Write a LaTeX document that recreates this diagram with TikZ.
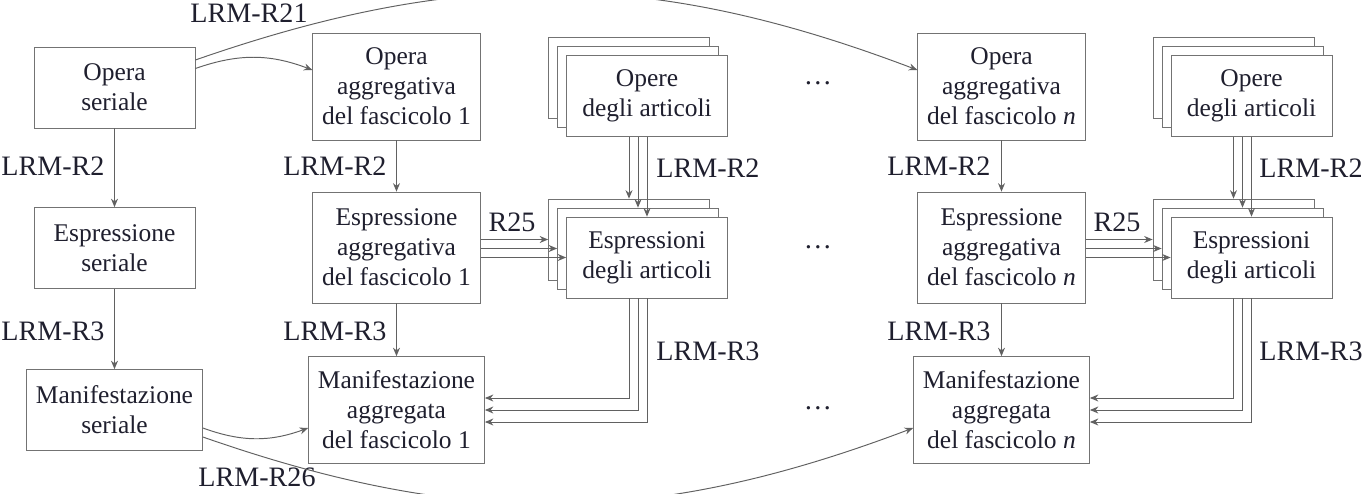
\documentclass[tikz,border=0pt]{standalone}
\usepackage{fontspec}
\setmainfont{Liberation Serif}
\usetikzlibrary{arrows.meta}
\tikzset{
  box/.style={draw=cbox,fill=white,text=ctext,align=center,inner sep=0.19cm,minimum width=3.22cm,minimum height=1.62cm,font=\fontsize{14.5}{17}\selectfont},
  tallbox/.style={box,minimum height=2.14cm},
  lbl/.style={text=ctext,inner sep=0pt,font=\fontsize{16}{19}\selectfont},
  rel/.style={draw=cline,line width=0.55pt,-{Stealth[length=1.7mm,width=1.4mm]}},
}
\begin{document}
\begin{tikzpicture}
\definecolor{cbox}{rgb}{0.45,0.45,0.45}
\definecolor{cline}{rgb}{0.38,0.38,0.38}
\definecolor{ctext}{rgb}{0.12,0.12,0.18}
\useasboundingbox (0,0) rectangle (27.38,9.86);
\clip (0,0) rectangle (27.38,9.86);
%
\node[box] (os) at (2.29,8.11) {Opera\\seriale};
\node[box] (es) at (2.29,4.90) {Espressione\\seriale};
\node[box] (ms) at (2.29,1.66) {Manifestazione\\seriale};
%
\node[tallbox] (oa1) at (7.93,8.13) {Opera\\aggregativa\\del fascicolo 1};
\node[tallbox,minimum height=2.22cm] (ea1) at (7.93,4.91) {Espressione\\aggregativa\\del fascicolo 1};
\node[tallbox] (ma1) at (7.93,1.66) {Manifestazione\\aggregata\\del fascicolo 1};
%
\node[tallbox] (oan) at (20.03,8.13) {Opera\\aggregativa\\del fascicolo \textit{n}};
\node[tallbox,minimum height=2.22cm] (ean) at (20.03,4.91) {Espressione\\aggregativa\\del fascicolo \textit{n}};
\node[tallbox] (man) at (20.03,1.66) {Manifestazione\\aggregata\\del fascicolo \textit{n}};
%
\node[box] (oart1c) at (12.58,8.30) {};
\node[box] (oart1b) at (12.76,8.12) {};
\node[box] (oart1) at (12.94,7.94) {Opere\\degli articoli};
\node[box] (eart1c) at (12.58,5.07) {};
\node[box] (eart1b) at (12.76,4.89) {};
\node[box] (eart1) at (12.94,4.71) {Espressioni\\degli articoli};
%
\node[box] (oartnc) at (24.67,8.30) {};
\node[box] (oartnb) at (24.85,8.12) {};
\node[box] (oartn) at (25.03,7.94) {Opere\\degli articoli};
\node[box] (eartnc) at (24.67,5.07) {};
\node[box] (eartnb) at (24.85,4.89) {};
\node[box] (eartn) at (25.03,4.71) {Espressioni\\degli articoli};
%
\node[lbl] (dots1) at (16.36,8.20) {\dots};
\node[lbl] (dots2) at (16.36,4.92) {\dots};
\node[lbl] (dots3) at (16.36,1.70) {\dots};
%
\node[lbl] (r21) at (4.98,9.60) {LRM-R21};
\node[lbl] (r26) at (5.14,0.32) {LRM-R26};
\node[lbl] (r2s) at (1.06,6.54) {LRM-R2};
\node[lbl] (r3s) at (1.06,3.24) {LRM-R3};
\node[lbl] (r2a) at (6.70,6.54) {LRM-R2};
\node[lbl] (r3a) at (6.70,3.24) {LRM-R3};
\node[lbl] (r25a) at (10.24,5.42) {R25};
\node[lbl] (r2b) at (14.16,6.50) {LRM-R2};
\node[lbl] (r3b) at (14.16,2.84) {LRM-R3};
\node[lbl] (r2n) at (18.78,6.54) {LRM-R2};
\node[lbl] (r3n) at (18.78,3.24) {LRM-R3};
\node[lbl] (r25n) at (22.34,5.42) {R25};
\node[lbl] (r2m) at (26.22,6.50) {LRM-R2};
\node[lbl] (r3m) at (26.22,2.84) {LRM-R3};
%
\draw[rel] (os.south) -- (es.north);
\draw[rel] (es.south) -- (ms.north);
\draw[rel] (oa1.south) -- (ea1.north);
\draw[rel] (ea1.south) -- (ma1.north);
\draw[rel] (oan.south) -- (ean.north);
\draw[rel] (ean.south) -- (man.north);
%
\draw[rel] ([yshift=0.38cm]os.east) to[bend left=20] ([yshift=0.33cm]oa1.west);
\draw[rel] ([yshift=0.55cm]os.east) to[bend left=20] ([yshift=0.33cm]oan.west);
\draw[rel] ([yshift=-0.36cm]ms.east) to[bend right=20] ([yshift=-0.36cm]ma1.west);
\draw[rel] ([yshift=-0.54cm]ms.east) to[bend right=20] ([yshift=-0.36cm]man.west);
%
\draw[rel] (oart1.south -| oart1c.south) -- (eart1c.north);
\draw[rel] (oart1.south -| oart1b.south) -- (eart1b.north);
\draw[rel] (oart1.south) -- (eart1.north);
\draw[rel] (ea1.east |- eart1c.west) -- (eart1c.west);
\draw[rel] (ea1.east |- eart1b.west) -- (eart1b.west);
\draw[rel] (ea1.east |- eart1.west) -- (eart1.west);
\draw[rel] (eart1.south -| eart1c.south) |- ([yshift=0.24cm]ma1.east);
\draw[rel] (eart1.south -| eart1b.south) |- (ma1.east);
\draw[rel] (eart1.south) |- ([yshift=-0.24cm]ma1.east);
%
\draw[rel] (oartn.south -| oartnc.south) -- (eartnc.north);
\draw[rel] (oartn.south -| oartnb.south) -- (eartnb.north);
\draw[rel] (oartn.south) -- (eartn.north);
\draw[rel] (ean.east |- eartnc.west) -- (eartnc.west);
\draw[rel] (ean.east |- eartnb.west) -- (eartnb.west);
\draw[rel] (ean.east |- eartn.west) -- (eartn.west);
\draw[rel] (eartn.south -| eartnc.south) |- ([yshift=0.24cm]man.east);
\draw[rel] (eartn.south -| eartnb.south) |- (man.east);
\draw[rel] (eartn.south) |- ([yshift=-0.24cm]man.east);
%
\end{tikzpicture}
\end{document}
